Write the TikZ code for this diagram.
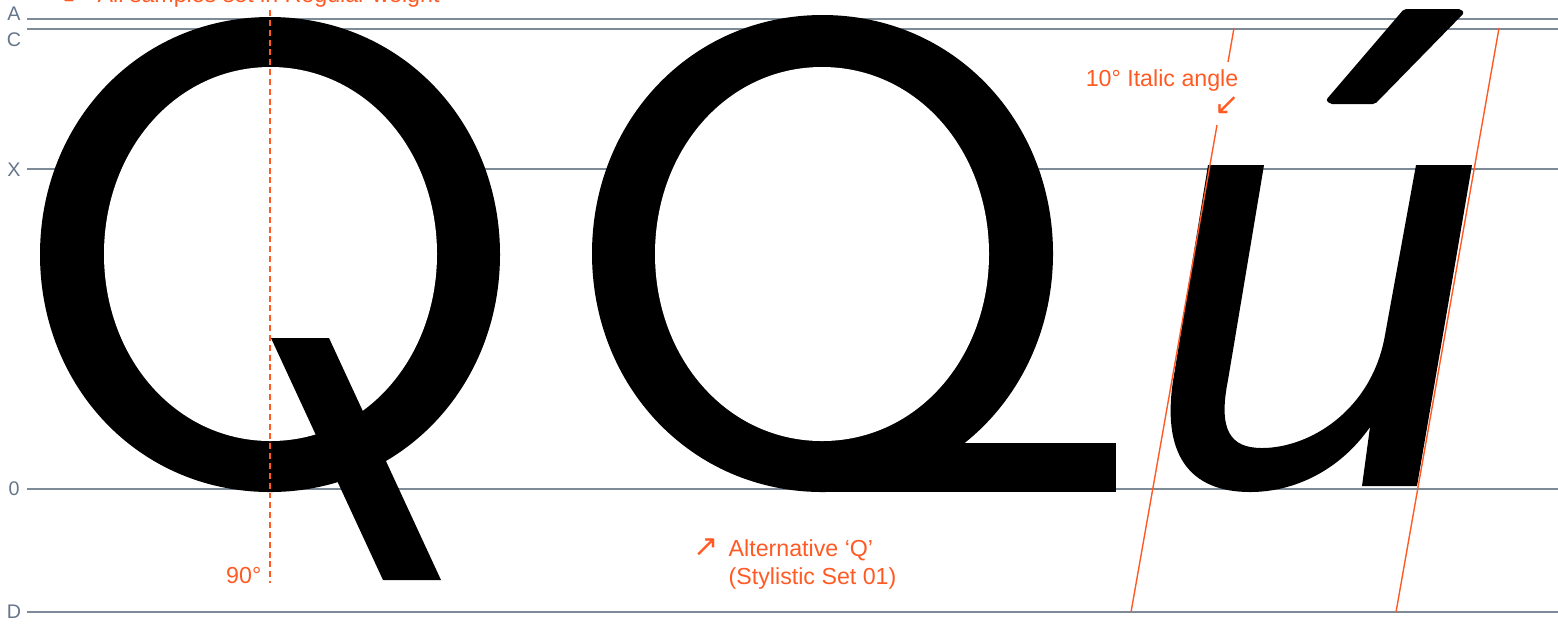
\documentclass[tikz,border=0pt]{standalone}
\usepackage{fontspec}
\setmainfont{Liberation Sans}
\newfontfamily\arrowfont{DejaVu Sans}
\usepackage{tikz}
\usetikzlibrary{positioning}

\definecolor{guide}{HTML}{7D8A98}
\definecolor{guidetext}{HTML}{66768A}
\definecolor{accent}{HTML}{FF5A24}

\begin{document}
\begin{tikzpicture}[
    x=0.01cm, y=-0.01cm,
    guideline/.style={draw=guide, line width=0.45pt},
    guidelbl/.style={text=guidetext, inner sep=0pt,
      font=\fontsize{5.6pt}{6pt}\selectfont},
    glyph/.style={fill=black},
    counter/.style={fill=white},
    slant/.style={draw=accent, line width=0.4pt},
    plumb/.style={draw=accent, line width=0.45pt, dash pattern=on 1.7pt off 1.1pt},
    note/.style={text=accent, inner sep=0pt,
      font=\fontsize{6.6pt}{8pt}\selectfont},
    notearrow/.style={note, font=\fontsize{8.6pt}{8pt}\arrowfont},
  ]
    \useasboundingbox (0,0) rectangle (1558,623);

    % guides
    \foreach \name/\lbl/\gy/\ly in {asc/A/19/14, cap/C/29/40, xh/X/169/170, base/0/489/489, desc/D/612/612} {
      \node[guidelbl] (lbl-\name) at (14,\ly) {\lbl};
      \draw[guideline] (27,\gy) -- (1558,\gy);
    }

    % Q, regular
    \fill[glyph] (270,17) .. controls (401,17) and (500,122) .. (500,254.5)
      .. controls (500,387) and (401,492) .. (270,492)
      .. controls (139,492) and (40,387) .. (40,254.5)
      .. controls (40,122) and (139,17) .. (270,17) -- cycle;
    \fill[counter] (270.5,67) .. controls (365,67) and (437,150) .. (437,254)
      .. controls (437,358) and (365,441) .. (270.5,441)
      .. controls (176,441) and (104,358) .. (104,254)
      .. controls (104,150) and (176,67) .. (270.5,67) -- cycle;
    \fill[glyph] (271,338) -- (329,338) -- (441,580) -- (383,580) -- cycle;

    % Q, stylistic set 01
    \fill[glyph] (822.5,15) .. controls (954,15) and (1053,121) .. (1053,253.5)
      .. controls (1053,386) and (954,492) .. (822.5,492)
      .. controls (691,492) and (592,386) .. (592,253.5)
      .. controls (592,121) and (691,15) .. (822.5,15) -- cycle;
    \fill[glyph] (822,443) rectangle (1116,492);
    \fill[counter] (822,67) .. controls (917,67) and (989,150) .. (989,254)
      .. controls (989,358) and (917,441) .. (822,441)
      .. controls (727,441) and (655,358) .. (655,254)
      .. controls (655,150) and (727,67) .. (822,67) -- cycle;

    % u acute, italic
    \fill[glyph] (1208,165) -- (1264,165) -- (1228,380)
      .. controls (1218,430) and (1230,448) .. (1262,448)
      .. controls (1310,448) and (1372,410) .. (1385,335)
      -- (1416,165) -- (1472,165) -- (1417,486) -- (1362,486) -- (1370,427)
      .. controls (1340,470) and (1295,492) .. (1250,492)
      .. controls (1190,492) and (1160,455) .. (1174,375) -- cycle;
    \fill[glyph, rounded corners=0.6pt] (1404,9) -- (1461,9) -- (1464,13)
      -- (1375,104) -- (1330,104) -- (1326,100) -- cycle;

    % italic angle
    \coordinate (il-top) at (1234,28);
    \coordinate (il-gap1) at (1228,62);
    \coordinate (il-gap2) at (1217,125);
    \coordinate (il-bot) at (1131,612);
    \coordinate (ir-top) at (1499,28);
    \coordinate (ir-bot) at (1396,612);
    \draw[slant] (il-top) -- (il-gap1);
    \draw[slant] (il-gap2) -- (il-bot);
    \draw[slant] (ir-top) -- (ir-bot);

    % vertical axis
    \coordinate (ax-top) at (270,10);
    \coordinate (ax-bot) at (270,583);
    \draw[plumb] (ax-top) -- (ax-bot);

    % notes
    \node[note, anchor=base west] (allreg) at (97,2) {All samples set in Regular weight};
    \node[notearrow, base left=3pt of allreg] (allreg-arr) {↙};
    \node[note, anchor=base east] (ital) at (1239,86) {10° Italic angle};
    \node[notearrow] (ital-arr) at (1227,106) {↙};
    \node[note, anchor=base east] (right) at (262,583) {90°};
    \node[note, anchor=base west] (alt) at (728,556) {Alternative ‘Q’};
    \node[note, anchor=base west] (alt-ss) at (728,584) {(Stylistic Set 01)};
    \node[notearrow, base left=2.5pt of alt] (alt-arr) {↗};
\end{tikzpicture}
\end{document}
